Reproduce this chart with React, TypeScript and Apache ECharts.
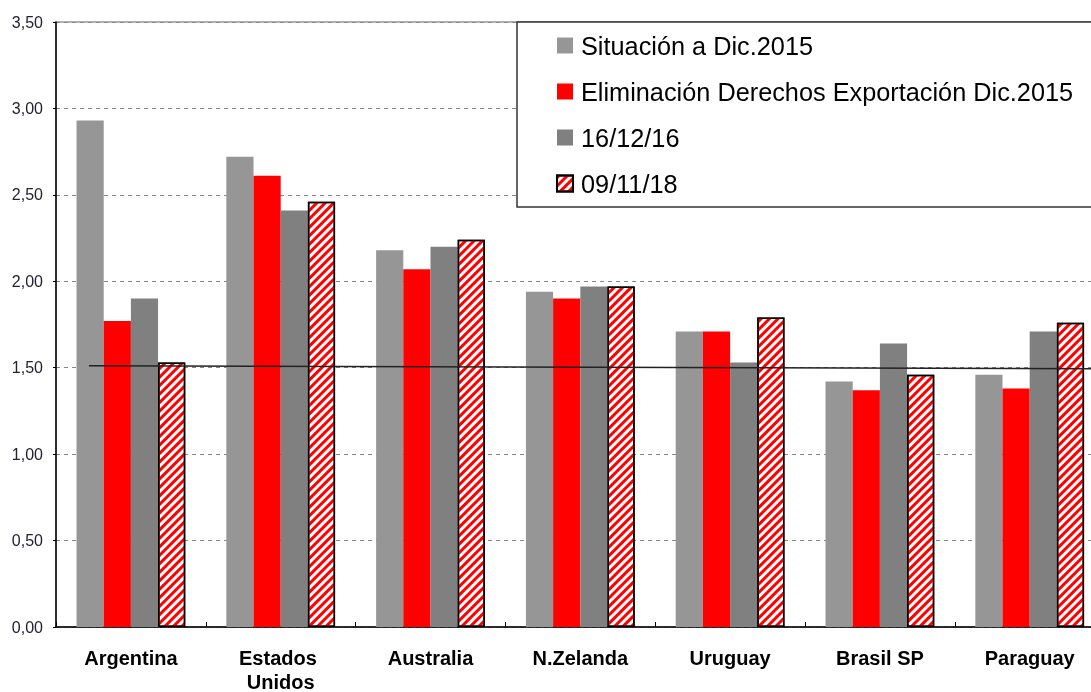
import React, { useEffect, useRef } from "react";
import * as echarts from "echarts";

const categories = ["Argentina", "Estados Unidos", "Australia", "N.Zelanda", "Uruguay", "Brasil SP", "Paraguay"];
const seriesNames = ["Situación a Dic.2015", "Eliminación Derechos Exportación Dic.2015", "16/12/16", "09/11/18"];
const situacion2015 = [2.93, 2.72, 2.18, 1.94, 1.71, 1.42, 1.46];
const eliminacion2015 = [1.77, 2.61, 2.07, 1.9, 1.71, 1.37, 1.38];
const valores161216 = [1.9, 2.41, 2.2, 1.97, 1.53, 1.64, 1.71];
const valores091118 = [1.53, 2.46, 2.24, 1.97, 1.79, 1.46, 1.76];
const trendPos = [0.22, 7];
const trendValues = [1.512, 1.494];
const yTicks = { min: 0, max: 3.5, interval: 0.5 };

const FONT = "'Liberation Sans', Arial, sans-serif";

export default function App() {
  const ref = useRef<HTMLDivElement>(null);
  useEffect(() => {
    document.body.style.margin = "0";
    document.body.style.overflow = "hidden";
    document.documentElement.style.overflow = "hidden";
    const chart = echarts.init(ref.current!, undefined, { renderer: "svg" });
    const hatch = {
      symbol: "rect",
      symbolSize: 1,
      color: "#ff0000",
      dashArrayX: [1, 0],
      dashArrayY: [2.5, 2.3],
      rotation: -Math.PI / 4,
    };
    const barBase = { type: "bar", barGap: "0%", barCategoryGap: "27.4%", xAxisIndex: 0, yAxisIndex: 0 };
    chart.setOption({
      animation: false,
      textStyle: { fontFamily: FONT },
      grid: {
        left: 56,
        top: 22,
        width: 1048.6,
        height: 605,
        outerBoundsMode: "none",
        containLabel: false,
        show: true,
        borderColor: "#999",
        borderWidth: 1.5,
        backgroundColor: "transparent",
      },
      legend: {
        orient: "vertical",
        left: 556,
        top: 33,
        padding: 0,
        itemWidth: 16,
        itemHeight: 16,
        itemGap: 21,
        icon: "rect",
        textStyle: { fontSize: 25.3, lineHeight: 25, color: "#000", fontFamily: FONT, padding: [0, 0, 0, 3] },
        data: seriesNames,
      },
      graphic: [
        {
          type: "rect",
          z: 3,
          shape: { x: 517, y: 22, width: 700, height: 185 },
          style: { fill: "#fff", stroke: "#333", lineWidth: 1.5 },
        },
      ],
      xAxis: [
        {
          type: "category",
          data: categories,
          axisLine: { lineStyle: { color: "#000", width: 1.5 } },
          axisTick: { show: true, inside: true, length: 5, lineStyle: { color: "#000" } },
          axisLabel: {
            interval: 0,
            fontSize: 20,
            fontWeight: "bold",
            color: "#000",
            fontFamily: FONT,
            margin: 19,
            lineHeight: 24,
            width: 120,
            overflow: "break",
          },
        },
        { type: "value", min: 0, max: 7, show: false },
      ],
      yAxis: {
        type: "value",
        min: yTicks.min,
        max: yTicks.max,
        interval: yTicks.interval,
        axisLine: { show: true, lineStyle: { color: "#000", width: 1.5 } },
        axisTick: { show: true, length: 3, lineStyle: { color: "#000" } },
        axisLabel: {
          fontSize: 16,
          color: "#222233",
          margin: 13,
          fontFamily: FONT,
          formatter: (v: number) => v.toFixed(2).replace(".", ","),
        },
        splitLine: { show: true, lineStyle: { color: "#888", type: [4, 4], width: 1.2 } },
      },
      series: [
        { ...barBase, name: seriesNames[0], data: situacion2015, itemStyle: { color: "#969696" } },
        { ...barBase, name: seriesNames[1], data: eliminacion2015, itemStyle: { color: "#ff0000" } },
        { ...barBase, name: seriesNames[2], data: valores161216, itemStyle: { color: "#808080" } },
        {
          ...barBase,
          name: seriesNames[3],
          data: valores091118,
          itemStyle: { color: "#fff", borderColor: "#000", borderWidth: 1.5, decal: hatch },
        },
        {
          type: "line",
          xAxisIndex: 1,
          yAxisIndex: 0,
          z: 5,
          symbol: "none",
          silent: true,
          data: trendPos.map((x, i) => [x, trendValues[i]]),
          lineStyle: { color: "#222", width: 1.5 },
        },
      ],
    });
    return () => chart.dispose();
  }, []);
  return (
    <div style={{ position: "fixed", left: 0, top: 0, width: 1091, height: 692, overflow: "hidden" }}>
      <div ref={ref} style={{ width: 1091, height: 692 }} />
    </div>
  );
}
